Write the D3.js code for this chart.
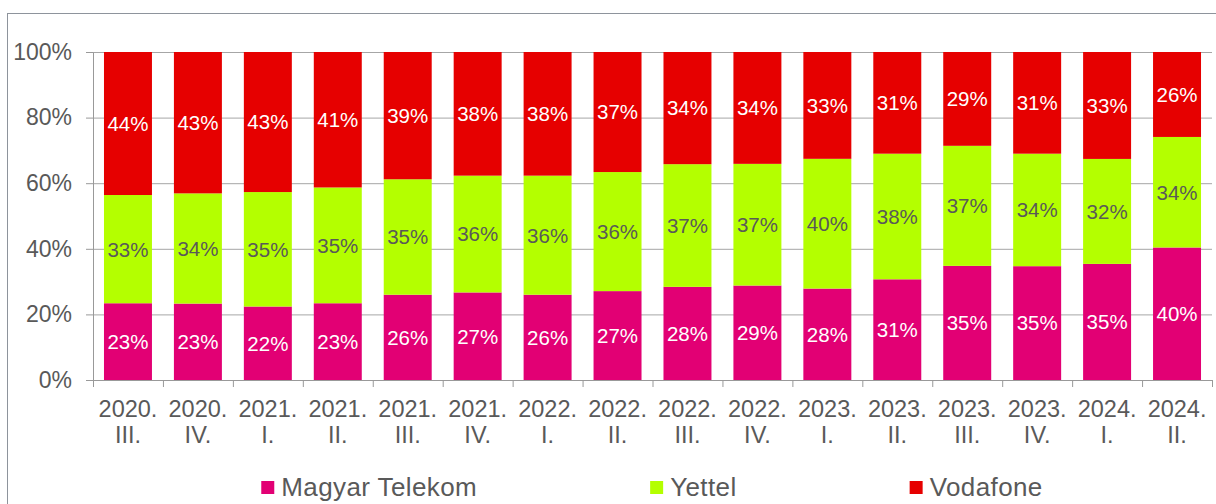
<!DOCTYPE html>
<html>
<head>
<meta charset="utf-8">
<script src="https://cdn.jsdelivr.net/npm/d3@7"></script>
<style>
    body { margin: 0; background: #fff; }
    svg { display: block; font-family: "Liberation Sans", Arial, sans-serif; }
</style>
</head>
<body>
<div id="chart"></div>
<script>
// quarters on the x axis (two lines each)
const years = ["2020.", "2020.", "2021.", "2021.", "2021.", "2021.", "2022.", "2022.",
    "2022.", "2022.", "2023.", "2023.", "2023.", "2023.", "2024.", "2024."];
const quarters = ["III.", "IV.", "I.", "II.", "III.", "IV.", "I.", "II.",
    "III.", "IV.", "I.", "II.", "III.", "IV.", "I.", "II."];

// market shares in %
const telekom = [23.4, 23.3, 22.4, 23.4, 26.0, 26.7, 26.0, 27.1, 28.4, 28.8, 27.9, 30.7, 34.8, 34.7, 35.4, 40.4];
const yettel = [33.0, 33.6, 34.9, 35.3, 35.2, 35.6, 36.3, 36.3, 37.4, 37.1, 39.6, 38.3, 36.6, 34.3, 32.0, 33.7];
const vodafone = [43.6, 43.1, 42.7, 41.3, 38.8, 37.7, 37.7, 36.6, 34.2, 34.1, 32.6, 31.0, 28.6, 31.0, 32.6, 25.9];

const seriesNames = ["Magyar Telekom", "Yettel", "Vodafone"];
const yTicks = [0, 0.2, 0.4, 0.6, 0.8, 1];

const colors = { "Magyar Telekom": "#e20074", "Yettel": "#b4ff00", "Vodafone": "#e60000" };
const labelColors = { "Magyar Telekom": "#ffffff", "Yettel": "#595959", "Vodafone": "#ffffff" };

const W = 1216, H = 504;
const plot = { left: 93, right: 1212, top: 52, bottom: 380 };
const axisGray = "#999999";

const rows = years.map((y, i) => ({
    cat: i,
    "Magyar Telekom": telekom[i],
    "Yettel": yettel[i],
    "Vodafone": vodafone[i]
}));

const stack = d3.stack().keys(seriesNames).offset(d3.stackOffsetExpand);
const layers = stack(rows);

const x = d3.scaleBand()
    .domain(rows.map((d) => d.cat))
    .range([plot.left, plot.right])
    .paddingInner(0.314)
    .paddingOuter(0.157);

const y = d3.scaleLinear().domain([0, 1]).range([plot.bottom, plot.top]);

// boundaries between categories, for the x tick marks
const xEdges = d3.scaleLinear().domain([0, years.length]).range([plot.left, plot.right]);

const svg = d3.select("#chart").append("svg")
    .attr("width", W)
    .attr("height", H);

// outer chart frame
svg.append("rect")
    .attr("x", 7.5)
    .attr("y", 13.5)
    .attr("width", W + 10)
    .attr("height", H + 10)
    .attr("fill", "none")
    .attr("stroke", "#8e949c")
    .attr("stroke-width", 1);

// gridlines
svg.append("g")
    .attr("transform", "translate(" + plot.left + ",0)")
    .call(d3.axisLeft(y).tickValues(yTicks).tickSize(-(plot.right - plot.left)).tickFormat(""))
    .call((g) => g.select(".domain").remove())
    .call((g) => g.selectAll("line").attr("stroke", "#a6a6a6"));

// bars
const layer = svg.append("g")
    .selectAll("g")
    .data(layers)
    .join("g")
    .attr("fill", (d) => colors[d.key]);

layer.selectAll("rect")
    .data((d) => d)
    .join("rect")
    .attr("x", (d) => x(d.data.cat))
    .attr("width", x.bandwidth())
    .attr("y", (d) => y(d[1]))
    .attr("height", (d) => y(d[0]) - y(d[1]));

// data labels
layer.each(function (l) {
    d3.select(this).selectAll("text")
        .data(l)
        .join("text")
        .attr("x", (d) => x(d.data.cat) + x.bandwidth() / 2)
        .attr("y", (d) => y((d[0] + d[1]) / 2))
        .attr("dy", "0.36em")
        .attr("text-anchor", "middle")
        .attr("font-size", 20.5)
        .attr("fill", labelColors[l.key])
        .text((d) => Math.round(d.data[l.key]) + "%");
});

// y axis
svg.append("g")
    .attr("transform", "translate(" + plot.left + ",0)")
    .call(d3.axisLeft(y).tickValues(yTicks).tickFormat(d3.format(".0%")).tickSize(7).tickSizeOuter(0).tickPadding(14))
    .call((g) => g.selectAll("line, .domain").attr("stroke", axisGray))
    .call((g) => g.selectAll("text")
        .attr("font-size", 23)
        .attr("fill", "#595959")
        .attr("font-family", "'Liberation Sans', Arial, sans-serif"));

// x axis line and tick marks
svg.append("g")
    .attr("transform", "translate(0," + plot.bottom + ")")
    .call(d3.axisBottom(xEdges).ticks(years.length).tickFormat("").tickSize(7).tickSizeOuter(0))
    .call((g) => g.selectAll("line, .domain").attr("stroke", axisGray));

// x labels, two lines
const xLabels = svg.append("g")
    .selectAll("text")
    .data(rows)
    .join("text")
    .attr("text-anchor", "middle")
    .attr("font-size", 23.5)
    .attr("fill", "#595959");

xLabels.append("tspan")
    .attr("x", (d) => x(d.cat) + x.bandwidth() / 2)
    .attr("y", 417)
    .text((d) => years[d.cat]);

xLabels.append("tspan")
    .attr("x", (d) => x(d.cat) + x.bandwidth() / 2)
    .attr("y", 443)
    .text((d) => quarters[d.cat]);

// legend
const legend = svg.append("g");
const items = legend.selectAll("g")
    .data(seriesNames)
    .join("g");

items.append("rect")
    .attr("y", 481)
    .attr("width", 13)
    .attr("height", 13)
    .attr("fill", (d) => colors[d]);

items.append("text")
    .attr("x", 20)
    .attr("y", 496)
    .attr("font-size", 26)
    .attr("letter-spacing", 0.4)
    .attr("fill", "#595959")
    .text((d) => d);

// spread the items out with a fixed gap, centred under the plot
const gap = 173;
const widths = [];
items.each(function () { widths.push(this.getBBox().width); });
const total = d3.sum(widths) + gap * (widths.length - 1);
let cursor = 652 - total / 2;
items.attr("transform", (d, i) => {
    const t = "translate(" + cursor + ",0)";
    cursor += widths[i] + gap;
    return t;
});
</script>
</body>
</html>
